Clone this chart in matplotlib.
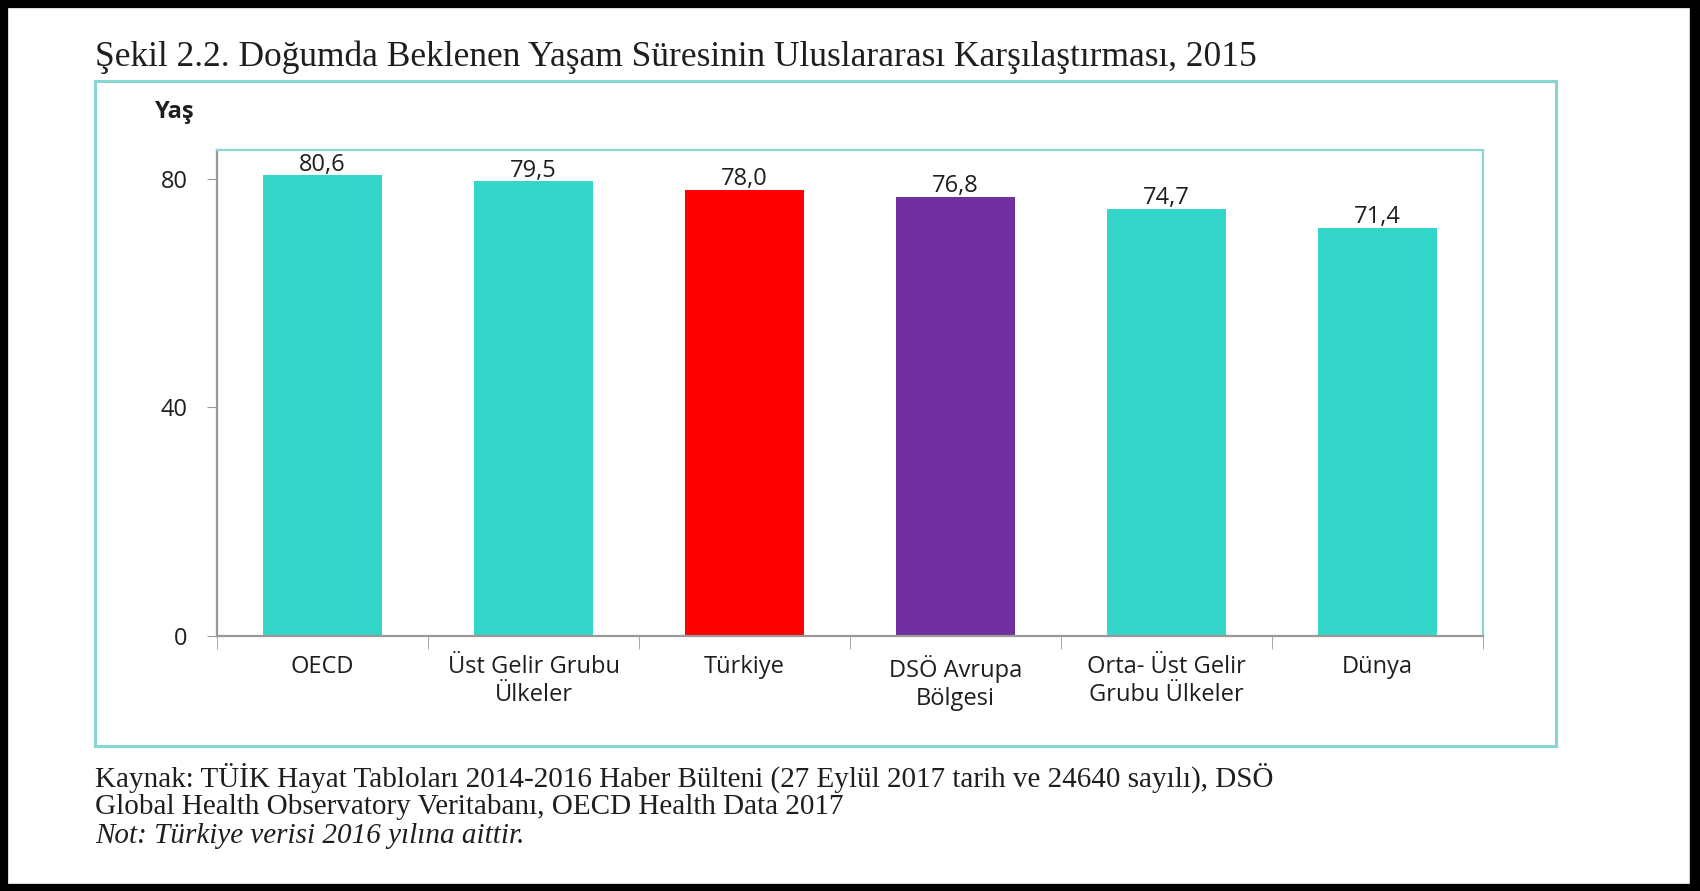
import matplotlib.pyplot as plt
import matplotlib.patches as patches

# veriler
kategoriler = ["OECD", "Üst Gelir Grubu\nÜlkeler", "Türkiye", "DSÖ Avrupa\nBölgesi",
               "Orta- Üst Gelir\nGrubu Ülkeler", "Dünya"]
degerler = [80.6, 79.5, 78.0, 76.8, 74.7, 71.4]
etiketler = ["80,6", "79,5", "78,0", "76,8", "74,7", "71,4"]
renkler = ["#33D6C8", "#33D6C8", "#FF0000", "#7030A0", "#33D6C8", "#33D6C8"]
y_ticks = [0, 40, 80]

baslik = "Şekil 2.2. Doğumda Beklenen Yaşam Süresinin Uluslararası Karşılaştırması, 2015"
kaynak1 = "Kaynak: TÜİK Hayat Tabloları 2014-2016 Haber Bülteni (27 Eylül 2017 tarih ve 24640 sayılı), DSÖ"
kaynak2 = "Global Health Observatory Veritabanı, OECD Health Data 2017"
notu = "Not: Türkiye verisi 2016 yılına aittir."

W, H = 1700, 891
fig = plt.figure(figsize=(W / 100, H / 100), dpi=100)
fig.patch.set_facecolor("white")

def fx(px):
    return px / W

def fy(py):
    return 1 - py / H

# siyah cerceve
fig.add_artist(patches.Rectangle((0, 0), 1, 1, transform=fig.transFigure,
                                 fill=False, edgecolor="black", linewidth=11))
fig.add_artist(patches.Rectangle((fx(1690), 0), fx(10), 1, transform=fig.transFigure,
                                 color="black"))

# dis turkuaz kutu
fig.add_artist(patches.Rectangle((fx(95), fy(746)), fx(1556) - fx(95), fy(81) - fy(746),
                                 transform=fig.transFigure, fill=False,
                                 edgecolor="#86D6D2", linewidth=2.2))

ax = fig.add_axes([fx(217), fy(636), fx(1483) - fx(217), fy(150) - fy(636)])
x = list(range(len(kategoriler)))
ax.bar(x, degerler, width=0.565, color=renkler, zorder=2)
ax.set_xlim(-0.5, len(kategoriler) - 0.5)
ax.set_ylim(0, 85)

sans = "Open Sans"
fs = 17
koyu = "#1e1e1e"
for xi, v, lab in zip(x, degerler, etiketler):
    ax.annotate(lab, (xi, v), xytext=(0, -1), textcoords="offset points",
                ha="center", va="bottom", fontsize=fs, family=sans, color=koyu)

ax.set_yticks(y_ticks)
ax.set_yticklabels([str(t) for t in y_ticks], fontsize=fs, family=sans, color=koyu)
ax.set_xticks(x)
ax.set_xticklabels(kategoriler, fontsize=fs, family=sans, color=koyu, linespacing=1.2)
ax.tick_params(axis="x", length=0, pad=14)
ax.tick_params(axis="y", length=7, color="#999999", direction="out", pad=14)

# kategori sinirlarindaki tikler
ax.set_xticks([i - 0.5 for i in range(len(kategoriler) + 1)], minor=True)
ax.tick_params(axis="x", which="minor", length=9, color="#999999", direction="out")

for s in ["left", "bottom"]:
    ax.spines[s].set_color("#999999")
    ax.spines[s].set_linewidth(1.6)
for s in ["top", "right"]:
    ax.spines[s].set_color("#8ED6D2")
    ax.spines[s].set_linewidth(1.6)

fig.text(fx(155), fy(112), "Yaş", fontsize=fs, family=sans, fontweight="bold",
         ha="left", va="center", color=koyu)

serif = "Liberation Serif"
fig.text(fx(95), fy(57), baslik, fontsize=25.5, family=serif, ha="left", va="center",
         color=koyu)
fig.text(fx(95), fy(778), kaynak1, fontsize=21, family=serif, ha="left", va="center",
         color=koyu)
fig.text(fx(95), fy(807), kaynak2, fontsize=21, family=serif, ha="left", va="center",
         color=koyu)
fig.text(fx(95), fy(836), notu, fontsize=21, family=serif, style="italic", ha="left",
         va="center", color=koyu)

fig.savefig("out.png", dpi=100)
